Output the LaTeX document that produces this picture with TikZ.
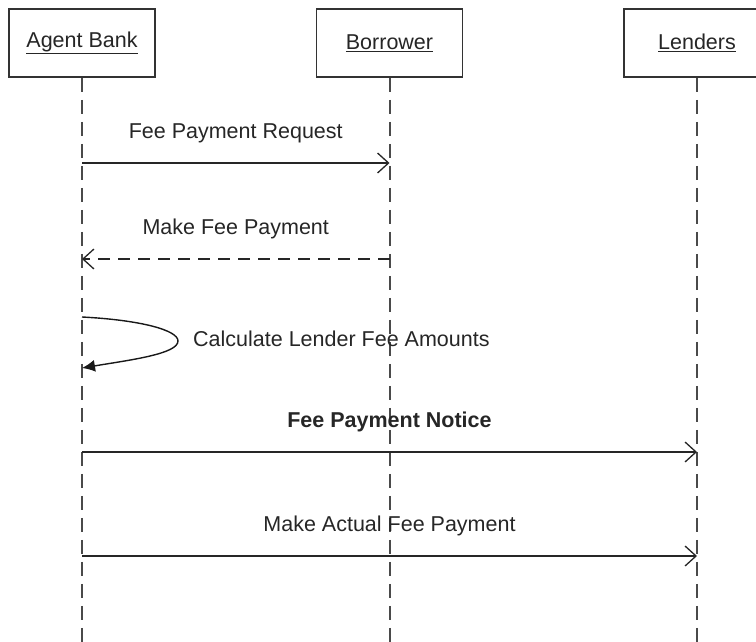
\documentclass[tikz,border=0pt]{standalone}
\usepackage{fontspec}
\setmainfont{Liberation Sans}
\usetikzlibrary{arrows.meta}
\definecolor{txt}{HTML}{262626}
\definecolor{life}{HTML}{4a4a4a}
\begin{document}
\begin{tikzpicture}[x=1pt,y=-1pt,
  font=\fontsize{21.5}{25}\selectfont, text=txt,
  actor/.style={draw=black!80, line width=1.6pt, fill=white, minimum width=146pt, minimum height=68pt, inner sep=0pt},
  lifeline/.style={draw=life, line width=2pt, dash pattern=on 14pt off 8pt},
  msg/.style={draw=black!85, line width=1.3pt, -{Straight Barb[length=11pt,width=20pt,line width=1.3pt]}},
  ret/.style={msg, dash pattern=on 12pt off 8pt},
  lbl/.style={midway, yshift=30pt, inner sep=0pt}]
\useasboundingbox (0,0) rectangle (756,642);
% actors
\node[actor] (ab) at (82,43) {\underline{Agent Bank}};
\node[actor] (bo) at (389.5,43) {\underline{Borrower}};
\node[actor] (le) at (697,43) {\underline{Lenders}};
% lifeline ends
\coordinate (abE) at (82,642);
\coordinate (boE) at (389.5,642);
\coordinate (leE) at (697,642);
\draw[lifeline] (ab.south) -- (abE);
\draw[lifeline] (bo.south) -- (boE);
\draw[lifeline] (le.south) -- (leE);
% message points
\coordinate (a1) at (82,163);   \coordinate (b1) at (389.5,163);
\coordinate (a2) at (82,259);   \coordinate (b2) at (389.5,259);
\coordinate (s1) at (82,317);   \coordinate (s2) at (178,341); \coordinate (s3) at (82,368);
\coordinate (a4) at (82,452);   \coordinate (l4) at (697,452);
\coordinate (a5) at (82,556);   \coordinate (l5) at (697,556);
\draw[msg] (a1) -- node[lbl]{Fee Payment Request} (b1);
\draw[ret] (b2) -- node[lbl]{Make Fee Payment} (a2);
\draw[line width=1.4pt, draw=black!90, -{Latex[length=13pt,width=12pt]}]
  (s1) .. controls (140,320) and (178,330) .. (s2)
       .. controls (178,354) and (130,360) .. (s3);
\node[anchor=west, inner sep=0pt] (calc) at (193,339) {Calculate Lender Fee Amounts};
\draw[msg] (a4) -- node[lbl, font=\fontsize{21.5}{25}\selectfont\bfseries]{Fee Payment Notice} (l4);
\draw[msg] (a5) -- node[lbl]{Make Actual Fee Payment} (l5);
\end{tikzpicture}
\end{document}
